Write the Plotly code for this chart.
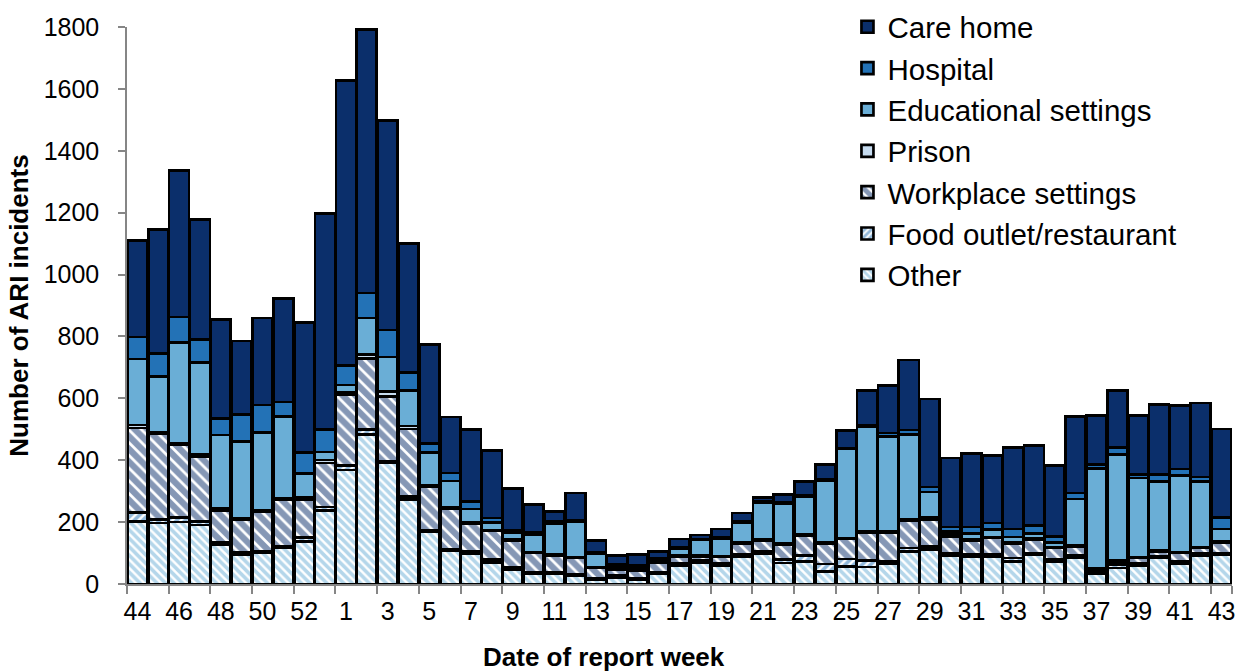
import plotly.graph_objects as go

weeks = [44, 45, 46, 47, 48, 49, 50, 51, 52, 53] + list(range(1, 44))
week_labels = [str(w) for w in weeks]

other = [203, 197, 200, 191, 126, 95, 101, 117, 138, 237,
         368, 483, 391, 273, 169, 108, 98, 70, 46, 32, 33, 27, 14, 19, 14, 33,
         59, 70, 60, 87, 98, 68, 73, 41, 57, 55, 65, 106, 111, 92, 87, 89, 73,
         95, 71, 84, 32, 52, 60, 84, 66, 92, 95]
food = [27, 12, 16, 12, 8, 6, 5, 5, 12, 12,
        16, 16, 6, 10, 3, 3, 8, 9, 8, 6, 5, 5, 5, 8, 5, 5,
        7, 6, 8, 8, 8, 11, 20, 24, 24, 20, 8, 10, 11, 8, 8, 6, 11,
        5, 8, 8, 9, 10, 8, 5, 7, 8, 5]
workplace = [274, 276, 233, 210, 104, 106, 127, 150, 124, 142,
             228, 230, 209, 218, 141, 131, 89, 93, 87, 62, 54, 52, 33, 19, 25, 30,
             23, 13, 19, 35, 34, 48, 64, 67, 64, 92, 94, 89, 86, 54, 46, 54, 48,
             43, 37, 30, 7, 11, 16, 17, 27, 16, 35]
prison = [10, 5, 5, 5, 5, 5, 5, 5, 5, 10,
          6, 13, 17, 10, 5, 5, 5, 3, 3, 3, 3, 3, 3, 3, 3, 3,
          3, 3, 3, 3, 3, 3, 3, 3, 3, 3, 3, 3, 8, 5, 3, 3, 3,
          3, 3, 3, 3, 3, 3, 3, 3, 3, 3]
educational = [213, 180, 327, 297, 239, 248, 251, 265, 77, 26,
               25, 118, 111, 115, 108, 86, 42, 24, 23, 56, 100, 116, 43, 8, 8, 8,
               22, 50, 58, 66, 119, 130, 121, 200, 288, 337, 307, 275, 81, 11, 19, 24, 17,
               17, 16, 150, 322, 342, 256, 223, 247, 213, 40]
hospital = [71, 74, 82, 76, 52, 87, 89, 46, 68, 73,
            62, 80, 87, 57, 28, 26, 25, 14, 8, 8, 7, 3, 4, 5, 5, 5,
            4, 3, 4, 3, 4, 3, 5, 3, 3, 5, 11, 15, 16, 14, 21, 21, 26,
            26, 19, 19, 13, 22, 10, 21, 22, 14, 38]
care_home = [311, 402, 473, 387, 321, 238, 282, 334, 420, 697,
             921, 851, 677, 418, 320, 181, 232, 219, 134, 90, 32, 88, 38, 30, 36, 22,
             27, 13, 26, 27, 14, 27, 46, 49, 58, 113, 154, 226, 285, 223, 237, 219, 264,
             259, 228, 248, 158, 185, 191, 227, 204, 239, 285]

y_ticks = [0, 200, 400, 600, 800, 1000, 1200, 1400, 1600, 1800]

NAVY = "#0B2F6B"
MID = "#2372B6"
LIGHT = "#6AAED6"
PALE = "#C6DBEF"

x = list(range(len(weeks)))
line = dict(color="black", width=2.7)

series = [
    ("Other", other, dict(color="white", line=line,
                          pattern=dict(shape="\\", fgcolor=LIGHT, bgcolor="white", size=6, solidity=0.6))),
    ("Food outlet/restaurant", food, dict(color="white", line=line,
                          pattern=dict(shape="/", fgcolor=MID, bgcolor="white", size=6, solidity=0.6))),
    ("Workplace settings", workplace, dict(color="white", line=line,
                          pattern=dict(shape="\\", fgcolor=NAVY, bgcolor="white", size=9, solidity=0.7))),
    ("Prison", prison, dict(color=PALE, line=line)),
    ("Educational settings", educational, dict(color=LIGHT, line=line)),
    ("Hospital", hospital, dict(color=MID, line=line)),
    ("Care home", care_home, dict(color=NAVY, line=line)),
]

fig = go.Figure()
for name, vals, marker in series:
    fig.add_trace(go.Bar(x=x, y=vals, name=name, marker=marker))

fig.update_layout(
    barmode="stack",
    bargap=0.04,
    width=1240, height=671,
    margin=dict(l=127, r=8, t=27, b=87, autoexpand=False),
    plot_bgcolor="white",
    paper_bgcolor="white",
    font=dict(family="Liberation Sans, Arial, sans-serif", size=25, color="black"),
    legend=dict(
        traceorder="reversed",
        x=0.652, y=1.0465, xanchor="left", yanchor="top",
        font=dict(size=29.5),
        bgcolor="rgba(0,0,0,0)",
        tracegroupgap=0,
    ),
    showlegend=True,
    annotations=[dict(
        text="<b>Date of report week</b>",
        xref="paper", yref="paper", x=0.4317, y=-0.131,
        xanchor="center", yanchor="middle",
        showarrow=False, font=dict(size=26),
    )],
)

fig.update_xaxes(
    automargin=False,
    range=[-0.5, len(weeks) - 0.5],
    tickmode="array",
    tickvals=x[::2],
    ticktext=week_labels[::2],
    ticks="",
    ticklabelstandoff=4,
    ticklabeloverflow="allow",
    showline=True, linecolor="#868686", linewidth=1.5,
    showgrid=False, zeroline=False,
    tickfont=dict(size=25),
    minor=dict(
        tickmode="array",
        tickvals=[v - 0.5 for v in x[::2]] + [len(weeks) - 0.5],
        ticks="outside", ticklen=8, tickcolor="#868686", tickwidth=1.5,
        showgrid=False,
    ),
)

fig.update_yaxes(
    automargin=False,
    range=[0, 1800],
    tickmode="array",
    tickvals=y_ticks,
    ticks="outside", ticklen=7, tickcolor="#868686", tickwidth=1.5,
    ticklabelstandoff=14,
    showline=True, linecolor="#868686", linewidth=1.5,
    showgrid=False, zeroline=False,
    tickfont=dict(size=25),
    title=dict(text="<b>Number of ARI incidents</b>", font=dict(size=26), standoff=8),
)

fig.write_html("out.html", config={"displayModeBar": False},
               post_script="document.body.style.margin='0';")
